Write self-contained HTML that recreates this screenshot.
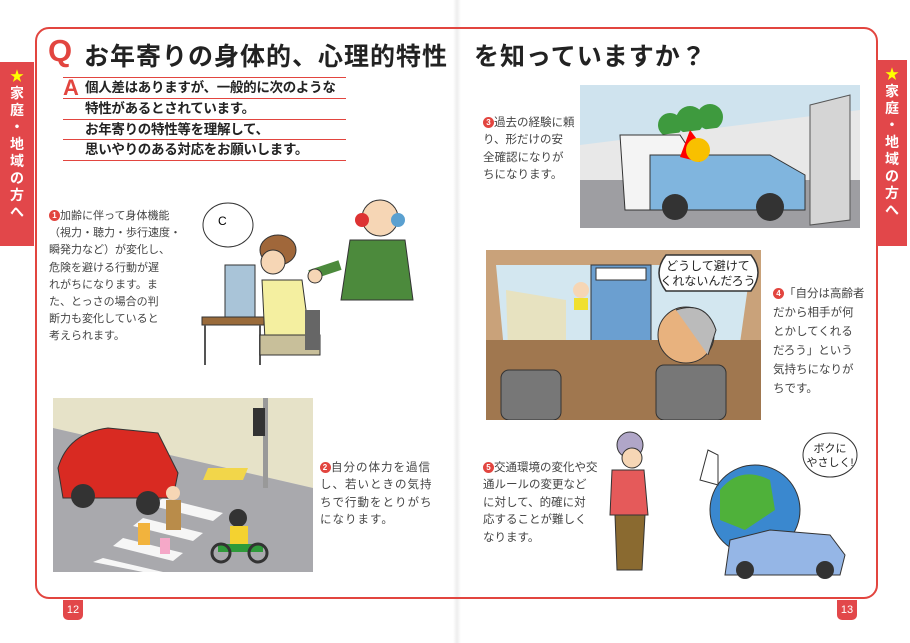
<!DOCTYPE html>
<html><head><meta charset="utf-8"><style>
*{margin:0;padding:0;box-sizing:border-box}
body{width:910px;height:643px;background:#fff;position:relative;overflow:hidden;font-family:"Liberation Sans","Noto Sans CJK JP",sans-serif;color:#333}
.a{position:absolute}
.box{left:35px;top:27px;width:843px;height:572px;border:2px solid #e2453f;border-radius:14px}
.tab{background:#e2474a;color:#fff;font-weight:bold;font-size:14px;text-align:center;padding-top:6px;line-height:17px}
.title{font-size:25px;font-weight:bold;color:#222;letter-spacing:1px;white-space:nowrap}
.aline{left:63px;width:283px;border-bottom:1.5px solid #e2453f;height:20.5px;font-size:13.5px;font-weight:bold;color:#222;padding-left:22px;line-height:20px;white-space:nowrap;letter-spacing:-.3px}
.t{font-size:11.5px;line-height:17.4px;color:#444;white-space:nowrap}
.n{display:inline-block;width:11px;height:11px;border-radius:50%;background:#e2453f;color:#fff;font-size:8px;line-height:11px;text-align:center;vertical-align:1px;font-weight:bold}
.pg{background:#e2474a;color:#fff;font-size:11px;width:20px;height:20px;border-radius:0 0 5px 5px;text-align:center;line-height:20px;top:600px}
</style></head><body>
<div class="a" style="left:453px;top:0;width:8px;height:643px;background:linear-gradient(90deg,#fff,#eee,#fff)"></div>
<div class="a box"></div>
<div class="a tab" style="left:0;top:62px;width:34px;height:184px"><span style="color:#ff0">★</span><br>家<br>庭<br>・<br>地<br>域<br>の<br>方<br>へ</div>
<div class="a tab" style="left:877px;top:60px;width:30px;height:186px"><span style="color:#ff0">★</span><br>家<br>庭<br>・<br>地<br>域<br>の<br>方<br>へ</div>
<div class="a" style="left:48px;top:33px;font-size:31px;font-weight:bold;color:#e2453f">Q</div>
<div class="a title" style="left:84px;top:37px">お年寄りの身体的、心理的特性　を知っていますか？</div>
<div class="a" style="left:63px;top:75px;font-size:22px;font-weight:bold;color:#e2453f">A</div>
<div class="a" style="left:63px;top:77px;width:283px;border-top:1.5px solid #e2453f"></div>
<div class="a aline" style="top:78px">個人差はありますが、一般的に次のような</div>
<div class="a aline" style="top:99px">特性があるとされています。</div>
<div class="a aline" style="top:119.5px">お年寄りの特性等を理解して、</div>
<div class="a aline" style="top:140px">思いやりのある対応をお願いします。</div>

<div class="a t" style="left:49px;top:208px;font-size:11px;line-height:17.2px"><span class="n">1</span>加齢に伴って身体機能<br>（視力・聴力・歩行速度・<br>瞬発力など）が変化し、<br>危険を避ける行動が遅<br>れがちになります。ま<br>た、とっさの場合の判<br>断力も変化していると<br>考えられます。</div>

<svg class="a" style="left:190px;top:180px" width="240" height="185">
<ellipse cx="38" cy="45" rx="25" ry="22" fill="#fff" stroke="#333"/><text x="28" y="45" font-size="12" font-family="Liberation Sans">C</text>
<rect x="35" y="85" width="30" height="52" fill="#a9c4d8" stroke="#333"/>
<rect x="12" y="137" width="62" height="8" fill="#9a6b3b" stroke="#333"/>
<path d="M15 145v40M70 145v40" stroke="#555" stroke-width="2"/>
<ellipse cx="88" cy="70" rx="18" ry="15" fill="#a0673a" stroke="#333"/>
<circle cx="83" cy="82" r="12" fill="#f6d6b5" stroke="#333"/>
<path d="M72 100h40l8 60h-45z" fill="#f4efa0" stroke="#333"/>
<path d="M70 155h60v20h-60z" fill="#c8bf9a" stroke="#333"/>
<rect x="115" y="130" width="15" height="40" fill="#666"/>
<circle cx="190" cy="38" r="18" fill="#f6d6b5" stroke="#333"/>
<circle cx="172" cy="40" r="7" fill="#d33"/><circle cx="208" cy="40" r="7" fill="#5aa0d0"/>
<path d="M160 60h55l8 60h-72z" fill="#4c8a3c" stroke="#333"/>
<path d="M150 85l-30 10" stroke="#4c8a3c" stroke-width="10"/>
<circle cx="125" cy="96" r="7" fill="#f6d6b5" stroke="#333"/>
</svg>

<svg class="a" style="left:53px;top:398px" width="260" height="174">
<rect width="260" height="174" fill="#dcdde0"/>
<path d="M0 0h260v90L0 30z" fill="#e6e2c8"/>
<path d="M0 30l260 60v84H0z" fill="#a9a9ad"/>
<g fill="#fff" opacity=".9"><path d="M90 120l60 15-10 8-60-15z"/><path d="M70 140l60 15-10 8-60-15z"/><path d="M50 160l60 14h-20l-50-10z"/><path d="M110 100l60 15-10 8-60-15z"/></g>
<path d="M155 70h40l-5 12h-40z" fill="#f2d64a"/>
<rect x="210" y="0" width="5" height="90" fill="#999"/><rect x="200" y="10" width="12" height="28" fill="#333"/>
<path d="M5 70q10-35 50-40l50 5 20 40-5 25H10z" fill="#d92a22" stroke="#333"/>
<circle cx="30" cy="98" r="12" fill="#333"/><circle cx="95" cy="105" r="12" fill="#333"/>
<circle cx="120" cy="95" r="7" fill="#f6d6b5"/><rect x="113" y="102" width="15" height="30" fill="#b98c4a"/>
<rect x="85" y="125" width="12" height="22" fill="#f2b33d"/><rect x="107" y="140" width="10" height="16" fill="#f5a8c8"/>
<circle cx="185" cy="120" r="9" fill="#333"/><rect x="177" y="128" width="18" height="20" fill="#f4d230"/>
<path d="M165 150h45" stroke="#2f9a3a" stroke-width="8"/><circle cx="168" cy="155" r="9" fill="none" stroke="#333" stroke-width="3"/><circle cx="205" cy="155" r="9" fill="none" stroke="#333" stroke-width="3"/>
</svg>
<div class="a t" style="left:320px;top:460px;letter-spacing:1px"><span class="n">2</span>自分の体力を過信<br>し、若いときの気持<br>ちで行動をとりがち<br>になります。</div>

<svg class="a" style="left:580px;top:85px" width="280" height="143">
<rect width="280" height="143" fill="#cfe3ee"/>
<circle cx="110" cy="35" r="14" fill="#3e9a3e"/><circle cx="90" cy="40" r="12" fill="#3e9a3e"/><circle cx="130" cy="32" r="13" fill="#3e9a3e"/>
<path d="M0 60l280-35v118H0z" fill="#e8e8e8"/>
<path d="M0 95h280v48H0z" fill="#9e9ea2"/>
<path d="M230 20l40-10v125l-40 5z" fill="#d5d5d5" stroke="#555"/>
<path d="M40 50h60l20 30v45H45z" fill="#f4f4f4" stroke="#333"/>
<path d="M70 70h120l35 20v35H70z" fill="#80b5de" stroke="#333"/>
<path d="M110 45l15 20-15-3 10 15-20-5" fill="#f00"/>
<circle cx="118" cy="65" r="12" fill="#f8c000"/>
<circle cx="95" cy="122" r="13" fill="#333"/><circle cx="190" cy="122" r="14" fill="#333"/>
</svg>
<div class="a t" style="left:483px;top:115px"><span class="n">3</span>過去の経験に頼<br>り、形だけの安<br>全確認になりが<br>ちになります。</div>

<svg class="a" style="left:486px;top:250px" width="275" height="170">
<rect width="275" height="170" fill="#c9a27a"/>
<path d="M10 15h255l-12 85H18z" fill="#d3e7f0"/>
<path d="M20 40l60 10v50H22z" fill="#e7e2c0"/>
<rect x="105" y="15" width="60" height="90" fill="#6b9fd0" stroke="#333"/>
<rect x="110" y="18" width="50" height="12" fill="#fff" stroke="#333"/>
<circle cx="95" cy="40" r="8" fill="#f6d6b5"/><rect x="88" y="48" width="14" height="12" fill="#f0e030"/>
<path d="M0 170v-80h275v80z" fill="#a0774f"/>
<rect x="15" y="120" width="60" height="50" rx="8" fill="#777" stroke="#333"/>
<rect x="170" y="115" width="70" height="55" rx="8" fill="#777" stroke="#333"/>
<circle cx="200" cy="85" r="28" fill="#e8b27e" stroke="#333"/><path d="M190 60q30-10 40 20l-8 25" fill="#bbb" stroke="#333"/>
<path d="M180 5h85q14 17 0 36h-85q-14-18 0-36z" fill="#fff" stroke="#333" stroke-width="1.5"/>
<text x="222" y="20" text-anchor="middle" font-size="12" font-family="Liberation Sans,Noto Sans CJK JP,sans-serif" fill="#222">どうして避けて</text>
<text x="222" y="35" text-anchor="middle" font-size="12" font-family="Liberation Sans,Noto Sans CJK JP,sans-serif" fill="#222">くれないんだろう</text>
</svg>
<div class="a t" style="left:773px;top:285px;line-height:19px"><span class="n">4</span>「自分は高齢者<br>だから相手が何<br>とかしてくれる<br>だろう」という<br>気持ちになりが<br>ちです。</div>

<div class="a t" style="left:483px;top:460px"><span class="n">5</span>交通環境の変化や交<br>通ルールの変更など<br>に対して、的確に対<br>応することが難しく<br>なります。</div>
<svg class="a" style="left:600px;top:430px" width="260" height="150">
<circle cx="30" cy="15" r="13" fill="#b0a6c8" stroke="#333"/><circle cx="32" cy="28" r="10" fill="#f6d6b5" stroke="#333"/>
<path d="M12 40h32l4 45H10z" fill="#e55a5a" stroke="#333"/>
<path d="M15 85h30l-3 55h-25z" fill="#8a6a30" stroke="#333"/>
<circle cx="155" cy="80" r="45" fill="#3a88cf" stroke="#333"/>
<path d="M120 60q20-25 50-10l5 30-30 20-25-10z" fill="#4fb13a"/>
<path d="M100 50l8-30 10 5 0 30z" fill="#fff" stroke="#333"/>
<path d="M130 110l40-10 60 5 15 20-5 20H125z" fill="#95b6e6" stroke="#333"/>
<circle cx="145" cy="140" r="9" fill="#333"/><circle cx="225" cy="140" r="9" fill="#333"/>
<ellipse cx="230" cy="25" rx="27" ry="22" fill="#fff" stroke="#333"/>
<text x="230" y="22" text-anchor="middle" font-size="11" font-family="Liberation Sans,Noto Sans CJK JP,sans-serif" fill="#222">ボクに</text>
<text x="230" y="36" text-anchor="middle" font-size="11" font-family="Liberation Sans,Noto Sans CJK JP,sans-serif" fill="#222">やさしく!</text>
</svg>

<div class="a pg" style="left:63px">12</div>
<div class="a pg" style="left:837px">13</div>
</body></html>
